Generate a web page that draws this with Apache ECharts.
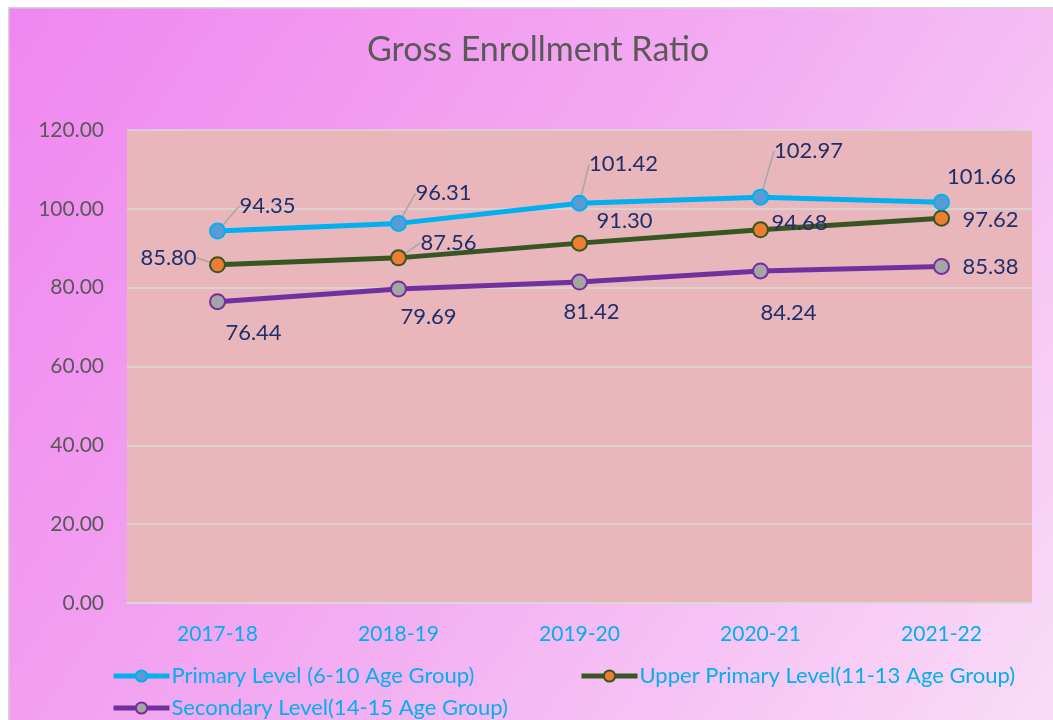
<!DOCTYPE html>
<html><head><meta charset="utf-8">
<script src="https://cdn.jsdelivr.net/npm/echarts@6/dist/echarts.min.js"></script>
<style>html,body{margin:0;padding:0;background:#fff}#c{width:1053px;height:720px}</style>
</head><body><div id="c"></div>
<script>
const categories = ['2017-18','2018-19','2019-20','2020-21','2021-22'];
const primary = [94.35, 96.31, 101.42, 102.97, 101.66];
const upperPrimary = [85.80, 87.56, 91.30, 94.68, 97.62];
const secondary = [76.44, 79.69, 81.42, 84.24, 85.38];
const seriesNames = ['Primary Level (6-10 Age Group)','Upper Primary Level(11-13 Age Group)','Secondary Level(14-15 Age Group)'];
const yTicks = {min:0, max:120, interval:20};

// label offsets (dx, dy) from point, and which labels have leader lines
const labelOffsets = [
  [[50,-25],[45,-30],[44,-39],[48,-46],[40,-25]],
  [[-49,-7],[50,-15],[45,-22],[39,-7],[49,2]],
  [[36,31],[30,28],[12,30],[28,42],[49,0]]
];
const leader = [[1,1,1,1,0],[1,1,0,0,0],[0,0,0,0,0]];

const FONT = 'Lato';
const styles = [
  {line:'#00b0f0', fill:'#5b9bd5', border:'#00b0f0'},
  {line:'#375623', fill:'#ed7d31', border:'#375623'},
  {line:'#7030a0', fill:'#a5a5a5', border:'#7030a0'}
];
const values = [primary, upperPrimary, secondary];

const chart = echarts.init(document.getElementById('c'));
const series = values.map((vals, si) => ({
  name: seriesNames[si],
  type: 'line',
  data: vals.map((v, i) => ({value: v, labelLine: {show: !!leader[si][i]}})),
  symbol: 'circle',
  symbolSize: 15,
  lineStyle: {color: styles[si].line, width: 5},
  itemStyle: {color: styles[si].fill, borderColor: styles[si].border, borderWidth: 2},
  label: {show: true, position: 'inside', formatter: p => p.value.toFixed(2),
    color: '#1f2f6b', fontSize: 22, fontFamily: FONT},
  labelLine: {lineStyle: {color: '#a6a6a6', width: 1.5}},
  labelLayout: p => ({dx: labelOffsets[si][p.dataIndex][0], dy: labelOffsets[si][p.dataIndex][1]}),
  emphasis: {disabled: true},
  z: 10 - si
}));

const legendBase = {itemWidth: 56, itemHeight: 14, itemGap: 4,
  lineStyle: {width: 5},
  textStyle: {color: '#00b0f0', fontSize: 22, fontFamily: FONT, padding: [0,0,0,-3]}};

chart.setOption({
  animation: false,
  backgroundColor: '#ffffff',
  graphic: [{
    type: 'rect', left: 8, top: 7, z: -10, silent: true,
    shape: {width: 1045, height: 713},
    style: {fill: new echarts.graphic.LinearGradient(0,0,1,1,[
      {offset:0, color:'#f086f0'},{offset:0.5, color:'#f3acf1'},{offset:1, color:'#f9dcf7'}]),
      stroke: '#d4d4d4', lineWidth: 1.5}
  }],
  title: {text: 'Gross Enrollment Ratio', left: 362, top: 28,
    textStyle: {color: '#595959', fontSize: 34, fontWeight: 'normal', fontFamily: FONT}},
  grid: {left: 127, right: 21, top: 130, bottom: 117, show: true, backgroundColor: '#e8b6bb', borderWidth: 0},
  xAxis: {type: 'category', data: categories, boundaryGap: true,
    axisLine: {lineStyle: {color: '#d9d9d9', width: 1.5}}, axisTick: {show: false},
    axisLabel: {color: '#00b0f0', fontSize: 21, fontFamily: FONT, margin: 21}},
  yAxis: {type: 'value', min: yTicks.min, max: yTicks.max, interval: yTicks.interval,
    axisLine: {show: false}, axisTick: {show: false},
    splitLine: {lineStyle: {color: '#d9d9d9', width: 1.5}},
    axisLabel: {color: '#595959', fontSize: 21, fontFamily: FONT, margin: 23, formatter: v => v.toFixed(2)}},
  legend: [
    Object.assign({data: [seriesNames[0]], left: 106, top: 660}, legendBase),
    Object.assign({data: [seriesNames[1]], left: 574, top: 660}, legendBase),
    Object.assign({data: [seriesNames[2]], left: 106, top: 692}, legendBase)
  ],
  series: series
});
</script></body></html>
